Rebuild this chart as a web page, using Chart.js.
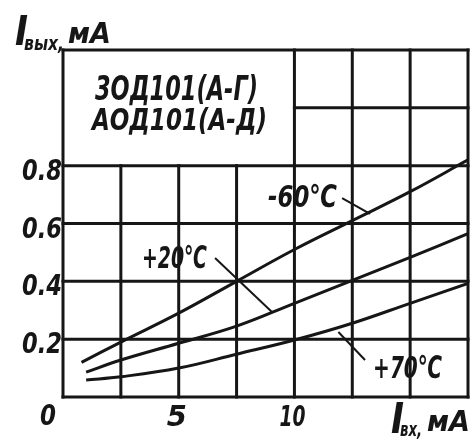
<!DOCTYPE html>
<html>
<head>
<meta charset="utf-8">
<script src="https://cdn.jsdelivr.net/npm/chart.js@4"></script>
<style>
  html, body { margin: 0; padding: 0; background: #fff; }
  #wrap { width: 475px; height: 439px; }
</style>
</head>
<body>
<div id="wrap"><canvas id="chart" width="475" height="439"></canvas></div>
<script>
// Iвых = f(Iвх) for 3ОД101 / АОД101 optocouplers
const xMinus60 = [0.8, 2.5, 5, 7.5, 10, 12.5, 15, 17.5];
const yMinus60 = [0.12, 0.19, 0.29, 0.40, 0.51, 0.61, 0.71, 0.82];

const xPlus20 = [1.0, 2.5, 5, 7.5, 10, 12.5, 15, 17.5];
const yPlus20 = [0.086, 0.128, 0.186, 0.245, 0.324, 0.403, 0.483, 0.565];

const xPlus70 = [1.0, 2.5, 5, 7.5, 10, 12.5, 15, 17.5];
const yPlus70 = [0.059, 0.07, 0.1, 0.148, 0.197, 0.255, 0.324, 0.393];

const xGrid = [0, 2.5, 5, 7.5, 10, 12.5, 15, 17.5];
const yGrid = [0, 0.2, 0.4, 0.6, 0.8, 1.0, 1.2];
const xTickLabels = [5, 10];
const yTickLabels = [0.2, 0.4, 0.6, 0.8];

const seriesLabels = ["-60℃", "+20℃", "+70℃"];
const deviceNames = ["3ОД101(А-Г)", "АОД101(А-Д)"];

const INK = "#161616";
const FONT = '"DejaVu Sans", "Liberation Sans", sans-serif';

function toPoints(xs, ys) {
  return xs.map((x, i) => ({ x: x, y: ys[i] }));
}

function text(ctx, str, x, y, size, maxW, align) {
  ctx.font = "italic bold " + size + "px " + FONT;
  ctx.textAlign = align || "left";
  ctx.textBaseline = "alphabetic";
  ctx.fillText(str, x, y, maxW);
}

function line(ctx, x1, y1, x2, y2, w) {
  ctx.lineWidth = w;
  ctx.beginPath();
  ctx.moveTo(x1, y1);
  ctx.lineTo(x2, y2);
  ctx.stroke();
}

const gridPlugin = {
  id: "drawingGrid",
  beforeDatasetsDraw(chart) {
    const ctx = chart.ctx;
    const xs = chart.scales.x;
    const ys = chart.scales.y;
    ctx.save();
    ctx.strokeStyle = INK;
    ctx.lineCap = "square";
    // vertical lines, cut off under the title box
    xGrid.forEach(v => {
      const top = (v > 0 && v < 10) ? 0.8 : 1.2;
      line(ctx, xs.getPixelForValue(v), ys.getPixelForValue(0),
        xs.getPixelForValue(v), ys.getPixelForValue(top), 3);
    });
    // horizontal lines
    yGrid.forEach(v => {
      const from = (v > 0.8 && v < 1.2) ? 10 : 0;
      line(ctx, xs.getPixelForValue(from), ys.getPixelForValue(v),
        xs.getPixelForValue(17.5), ys.getPixelForValue(v), 3);
    });
    ctx.restore();
  },
  afterDatasetsDraw(chart) {
    const ctx = chart.ctx;
    const xs = chart.scales.x;
    const ys = chart.scales.y;
    const a = chart.chartArea;
    const px = v => xs.getPixelForValue(v);
    const py = v => ys.getPixelForValue(v);
    ctx.save();
    ctx.fillStyle = INK;
    ctx.strokeStyle = INK;

    // box text
    text(ctx, deviceNames[0], px(1.38), py(1.027), 33, 163);
    text(ctx, deviceNames[1], px(1.25), py(0.923), 31, 175);

    // curve labels with leaders
    text(ctx, seriesLabels[0], px(8.86), py(0.657), 31, 69);
    line(ctx, px(12.06), py(0.688), px(13.27), py(0.633), 2);
    text(ctx, seriesLabels[1], px(3.41), py(0.446), 31, 65);
    line(ctx, px(6.57), py(0.481), px(9.03), py(0.294), 2);
    text(ctx, seriesLabels[2], px(13.4), py(0.066), 31, 69);
    line(ctx, px(11.9), py(0.225), px(13.05), py(0.128), 2);

    // tick labels
    yTickLabels.forEach(v => {
      text(ctx, v.toFixed(1), a.left - 1, py(v) + 14, 29, 40, "right");
    });
    text(ctx, "0", a.left - 15, a.bottom + 28, 29, 16, "center");
    xTickLabels.forEach(v => {
      text(ctx, String(v), px(v) - 2, a.bottom + 29, 29, 26, "center");
    });

    // axis titles
    text(ctx, "I", 15, 45, 41, 13);
    text(ctx, "вых,", 24, 50, 19, 40);
    text(ctx, "мА", 68, 43, 29, 43);

    text(ctx, "I", a.left + 328, a.bottom + 36, 43, 13);
    text(ctx, "вх,", a.left + 337, a.bottom + 39, 19, 22);
    text(ctx, "мА", a.left + 364, a.bottom + 34, 29, 43);
    ctx.restore();
  }
};

const curveStyle = {
  borderColor: INK,
  borderWidth: 3,
  pointRadius: 0,
  tension: 0.4,
  fill: false
};

new Chart(document.getElementById("chart"), {
  type: "line",
  data: {
    datasets: [
      Object.assign({ label: seriesLabels[0], data: toPoints(xMinus60, yMinus60) }, curveStyle),
      Object.assign({ label: seriesLabels[1], data: toPoints(xPlus20, yPlus20) }, curveStyle),
      Object.assign({ label: seriesLabels[2], data: toPoints(xPlus70, yPlus70) }, curveStyle)
    ]
  },
  options: {
    animation: false,
    responsive: false,
    layout: { padding: { left: 63, right: 7, top: 50, bottom: 42 } },
    plugins: {
      legend: { display: false },
      tooltip: { enabled: false }
    },
    scales: {
      x: { type: "linear", min: 0, max: 17.5, display: false },
      y: { type: "linear", min: 0, max: 1.2, display: false }
    }
  },
  plugins: [gridPlugin]
});
</script>
</body>
</html>
